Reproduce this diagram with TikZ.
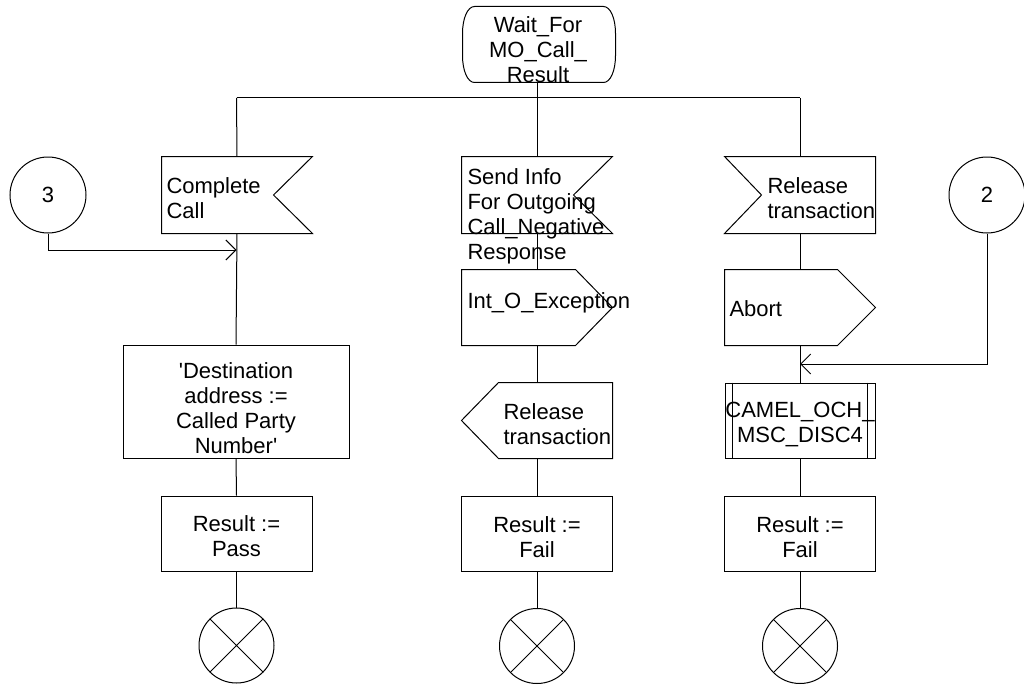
\documentclass[tikz,border=0pt]{standalone}
\usepackage{fontspec}
\setmainfont{Liberation Sans}
\newfontfamily\qfont{Liberation Sans}[Ligatures=ResetAll]
\newcommand{\sq}{{\qfont\symbol{39}}}
\usetikzlibrary{calc,arrows.meta}
\begin{document}
\begin{tikzpicture}[x=1pt,y=-1pt,line width=1pt,
  txt/.style={inner sep=0pt, font=\fontsize{22}{25}\selectfont},
  frame/.style={inner sep=0pt, minimum width=150pt, minimum height=76pt},
  plainbox/.style={draw, inner sep=0pt, minimum width=151pt, minimum height=75pt},
  conn/.style={draw, circle, inner sep=0pt, minimum size=76pt, font=\fontsize{22}{25}\selectfont},
  term/.style={draw, circle, inner sep=0pt, minimum size=75pt},
  arr/.style={-{Straight Barb[length=10pt,width=20pt,line width=1pt]}},
]
\useasboundingbox (0,0) rectangle (1024,698);

% state
\node[inner sep=0pt, minimum width=152pt, minimum height=75pt] (st) at (539,44.5) {};
\draw ($(st.north west)+(12,0)$) -- ($(st.north east)+(-12,0)$)
  .. controls ($(st.north east)+(-5,0)$) and ($(st.north east)+(0,12)$) .. ($(st.north east)+(0,27)$)
  -- ($(st.south east)+(0,-27)$)
  .. controls ($(st.south east)+(0,-12)$) and ($(st.south east)+(-5,0)$) .. ($(st.south east)+(-12,0)$)
  -- ($(st.south west)+(12,0)$)
  .. controls ($(st.south west)+(5,0)$) and ($(st.south west)+(0,-12)$) .. ($(st.south west)+(0,-27)$)
  -- ($(st.north west)+(0,27)$)
  .. controls ($(st.north west)+(0,12)$) and ($(st.north west)+(5,0)$) .. cycle;
\node[txt, align=center, anchor=north] (stt) at (538,16) {Wait\_For\\MO\_Call\_\\Result};

% bus
\coordinate (bus) at (537,98);
\coordinate (busL) at (236.5,98);
\coordinate (busR) at (800,98);
\draw (bus |- st.south) -- (bus);
\draw (busL) -- (busR);

% ---- left column ----
\node[frame] (in1) at (237,195) {};
\draw (in1.north west) -- (in1.north east) -- ($(in1.east)+(-39,0)$) -- (in1.south east) -- (in1.south west) -- cycle;
\node[txt, align=left, anchor=north west] (in1t) at (166,177) {Complete\\Call};

\node[conn] (c3) at (48,195) {3};
\coordinate (j1) at (236.5,250);

\node[draw, inner sep=0pt, minimum width=226pt, minimum height=113pt] (dest) at (236,401.5) {};
\node[txt, align=center, anchor=north] (destt) at (236,362) {\sq Destination\\address :=\\Called Party\\Number\sq};

\node[plainbox] (r1) at (236.5,533.5) {};
\node[txt, align=center, anchor=north] (r1t) at (236.5,515) {Result :=\\Pass};

\node[term] (t1) at (236.5,645.5) {};
\draw (t1.north west) -- (t1.south east) (t1.north east) -- (t1.south west);

% ---- middle column ----
\node[frame] (in2) at (537,195) {};
\draw (in2.north west) -- (in2.north east) -- ($(in2.east)+(-39,0)$) -- (in2.south east) -- (in2.south west) -- cycle;
\node[txt, align=left, anchor=north west] (in2t) at (467,168) {Send Info\\For Outgoing\\Call\_Negative\\Response};

\node[frame, minimum height=75pt] (out1) at (537,307.5) {};
\draw (out1.north west) -- ($(out1.north east)+(-37,0)$) -- (out1.east) -- ($(out1.south east)+(-37,0)$) -- (out1.south west) -- cycle;
\node[txt, anchor=north west] (out1t) at (467,292) {Int\_O\_Exception};

\node[frame, minimum height=75pt] (out2) at (537,420.5) {};
\draw (out2.west) -- ($(out2.north west)+(37,0)$) -- (out2.north east) -- (out2.south east) -- ($(out2.south west)+(37,0)$) -- cycle;
\node[txt, align=left, anchor=north west] (out2t) at (503,403) {Release\\transaction};

\node[plainbox] (r2) at (537,533.5) {};
\node[txt, align=center, anchor=north] (r2t) at (537,516) {Result :=\\Fail};

\node[term] (t2) at (537,646) {};
\draw (t2.north west) -- (t2.south east) (t2.north east) -- (t2.south west);

% ---- right column ----
\node[frame] (in3) at (800,195) {};
\draw (in3.north west) -- (in3.north east) -- (in3.south east) -- (in3.south west) -- ($(in3.west)+(37,0)$) -- cycle;
\node[txt, align=left, anchor=north west] (in3t) at (767,177) {Release\\transaction};

\node[conn] (c2) at (987,195) {2};
\coordinate (j2) at (800,364);

\node[frame, minimum height=75pt] (out3) at (800,307.5) {};
\draw (out3.north west) -- ($(out3.north east)+(-38,0)$) -- (out3.east) -- ($(out3.south east)+(-38,0)$) -- (out3.south west) -- cycle;
\node[txt, anchor=north west] (out3t) at (729,300) {Abort};

\node[draw, inner sep=0pt, minimum width=150pt, minimum height=75pt] (proc) at (800,420.5) {};
\draw ($(proc.north west)+(8,0)$) -- ($(proc.south west)+(8,0)$);
\draw ($(proc.north east)+(-8,0)$) -- ($(proc.south east)+(-8,0)$);
\node[txt, align=center, anchor=north] (proct) at (800,402) {CAMEL\_OCH\_\\MSC\_DISC4};

\node[plainbox] (r3) at (800,533.5) {};
\node[txt, align=center, anchor=north] (r3t) at (800,516) {Result :=\\Fail};

\node[term] (t3) at (800,646) {};
\draw (t3.north west) -- (t3.south east) (t3.north east) -- (t3.south west);

% ---- connectors ----
\draw (busL) -- (in1.north);
\draw (bus) -- (in2.north);
\draw (busR) -- (in3.north);

\draw (in1.south) -- (dest.north);
\draw (dest.south) -- (r1.north);
\draw (r1.south) -- (t1.north);
\draw[arr] (c3.south) |- (j1);

\draw (in2.south) -- (out1.north);
\draw (out1.south) -- (out2.north);
\draw (out2.south) -- (r2.north);
\draw (r2.south) -- (t2.north);

\draw (in3.south) -- (out3.north);
\draw (out3.south) -- (proc.north);
\draw (proc.south) -- (r3.north);
\draw (r3.south) -- (t3.north);
\draw[arr] (c2.south) |- (j2);
\end{tikzpicture}
\end{document}
